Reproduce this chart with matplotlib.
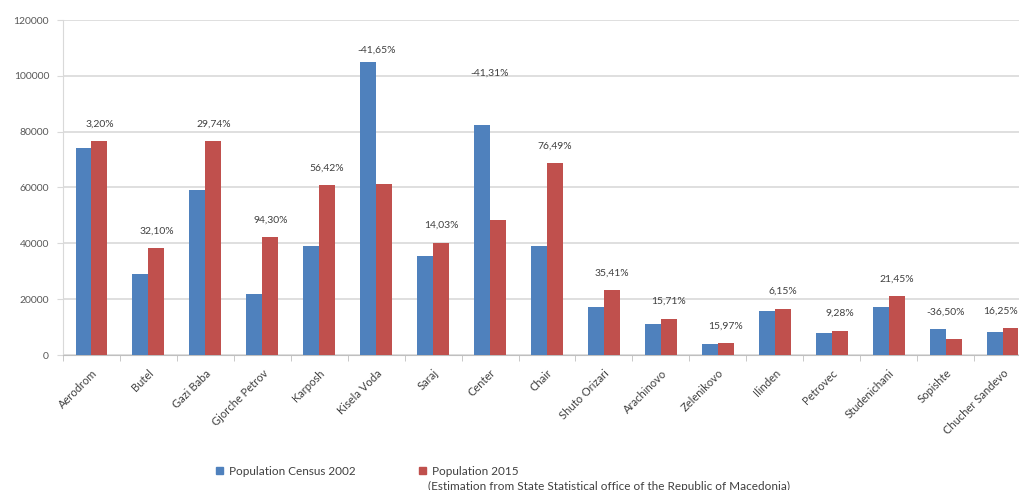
import matplotlib
matplotlib.use("Agg")
import matplotlib.pyplot as plt
import numpy as np
from matplotlib.patches import Patch

categories = ["Aerodrom", "Butel", "Gazi Baba", "Gjorche Petrov", "Karposh", "Kisela Voda",
              "Saraj", "Center", "Chair", "Shuto Orizari", "Arachinovo", "Zelenikovo",
              "Ilinden", "Petrovec", "Studenichani", "Sopishte", "Chucher Sandevo"]
pop_2002 = [74300, 29000, 59000, 21800, 38900, 105000, 35300, 82400, 38900, 17200,
            11250, 3800, 15700, 8000, 17300, 9200, 8200]
pop_2015 = [76700, 38350, 76500, 42350, 60850, 61250, 40250, 48360, 68650, 23290,
            13020, 4410, 16650, 8740, 21000, 5840, 9530]
change_labels = ["3,20%", "32,10%", "29,74%", "94,30%", "56,42%", "-41,65%", "14,03%",
                 "-41,31%", "76,49%", "35,41%", "15,71%", "15,97%", "6,15%", "9,28%",
                 "21,45%", "-36,50%", "16,25%"]
yticks = [0, 20000, 40000, 60000, 80000, 100000, 120000]

BLUE = "#4F81BD"
RED = "#C0504D"
FONT = ["Lato", "DejaVu Sans"]

fig = plt.figure(figsize=(10.2, 4.9), dpi=100)
ax = fig.add_axes([63/1020, 135/490, 968/1020, 335/490])

x = np.arange(len(categories))
w = 0.28
ax.bar(x - w/2, pop_2002, width=w, color=BLUE, zorder=3)
ax.bar(x + w/2, pop_2015, width=w, color=RED, zorder=3)

# percentage labels
special_offset = {5: 5, 7: 34}
n = len(categories)
for i, lab in enumerate(change_labels):
    top = max(pop_2002[i], pop_2015[i])
    neg = lab.startswith("-")
    off = special_offset.get(i, 9)
    if i == n - 1:
        xc, ha = x[i] + w * 0.95, "right"
    else:
        xc, ha = x[i] + (0.0 if neg else w/2), "center"
    ax.annotate(lab, (xc, top), xytext=(0, off), textcoords="offset points",
                ha=ha, va="bottom", fontsize=7.5, color="#404040",
                family=FONT, annotation_clip=False)

ax.set_xlim(-0.5, n - 0.5)
ax.set_ylim(0, 120000)
ax.set_yticks(yticks)
ax.set_yticklabels([str(v) for v in yticks], fontsize=7.5, color="#595959", family=FONT)
ax.yaxis.grid(True, color="#d9d9d9", linewidth=1.2, zorder=0)
ax.tick_params(axis="y", length=4, color="#d9d9d9", pad=6)

ax.set_xticks(x)
ax.set_xticklabels(categories, rotation=45, ha="right", rotation_mode="anchor",
                   fontsize=8, color="#404040", family=FONT)
ax.tick_params(axis="x", length=0, pad=9)
ax.set_xticks(np.arange(-0.5, n, 1.0), minor=True)
ax.tick_params(axis="x", which="minor", length=4, color="#bfbfbf")

for s in ["top", "right"]:
    ax.spines[s].set_visible(False)
ax.spines["left"].set_color("#d9d9d9")
ax.spines["bottom"].set_color("#bfbfbf")

handles = [Patch(color=BLUE), Patch(color=RED)]
fig.legend(handles, ["Population Census 2002", "Population 2015"], ncol=2,
           loc="upper left", bbox_to_anchor=(205/1020, 1 - 455/490), frameon=False,
           prop={"family": FONT, "size": 8.5}, handlelength=0.6, handleheight=0.6,
           columnspacing=5.4, handletextpad=0.5, labelcolor="#404040")
fig.text(428/1020, 1 - 486/490, "(Estimation from State Statistical office of the Republic of Macedonia)",
         fontsize=8.5, family=FONT, color="#404040", va="center", ha="left")

fig.savefig("out.png", dpi=100)
